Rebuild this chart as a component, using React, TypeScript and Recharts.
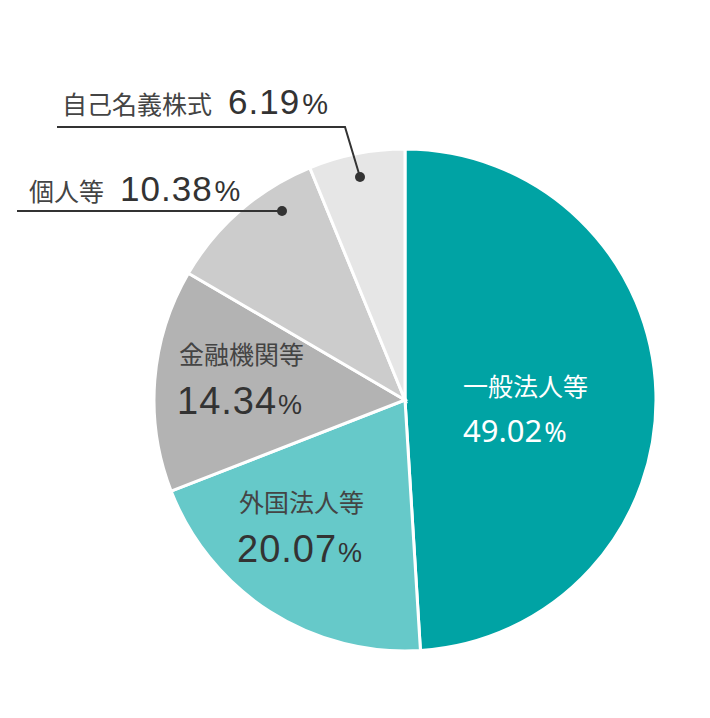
import { Cell, Pie, PieChart } from 'recharts'

const NAMES = ['一般法人等', '外国法人等', '金融機関等', '個人等', '自己名義株式']
const SHARES = [49.02, 20.07, 14.34, 10.38, 6.19]
const COLORS = ['#00a3a4', '#66c9c9', '#b3b3b3', '#cccccc', '#e6e6e6']

const data = NAMES.map((name, i) => ({ name, value: SHARES[i] }))

const DARK = '#333333'
const FONT = "'Liberation Sans', Arial, 'Noto Sans CJK JP', sans-serif"

// ラベル位置は円の中心からのずれ
const renderLabel = (props: any) => {
  const { cx, cy, index } = props
  const name = NAMES[index]
  const num = SHARES[index].toFixed(2)

  if (index === 0) {
    return (
      <g key={name} fontFamily={"'Noto Sans', 'Noto Sans CJK JP', sans-serif"} fill="#ffffff">
        <text x={cx + 58} y={cy - 4} fontSize={25} fontFamily="'Noto Sans CJK JP', sans-serif">
          {name}
        </text>
        <text x={cx + 58} y={cy + 42}>
          <tspan fontSize={31}>{num}</tspan>
          <tspan fontSize={27} dx={2}>%</tspan>
        </text>
      </g>
    )
  }

  if (index === 1 || index === 2) {
    const off = index === 1 ? { x: -166, y: 112 } : { x: -226, y: -36 }
    return (
      <g key={name} fontFamily={FONT} fill={DARK}>
        <text x={cx + off.x} y={cy + off.y} fontSize={25} fill="#444444" fontFamily="'Noto Sans CJK JP', sans-serif">
          {name}
        </text>
        <text x={cx + off.x - 2} y={cy + off.y + 50}>
          <tspan fontSize={38} letterSpacing={1}>{num}</tspan>
          <tspan fontSize={27} dx={1}>%</tspan>
        </text>
      </g>
    )
  }

  if (index === 3) {
    return (
      <g key={name} fontFamily={FONT}>
        <text x={cx - 376} y={cy - 199} fill={DARK}>
          <tspan fontSize={25} fill="#444444" fontFamily="'Noto Sans CJK JP', sans-serif">{name}</tspan>
          <tspan fontSize={35} dx={16} letterSpacing={1}>{num}</tspan>
          <tspan fontSize={29} dx={2}>%</tspan>
        </text>
        <line x1={cx - 388} y1={cy - 189} x2={cx - 123} y2={cy - 189} stroke={DARK} strokeWidth={2} />
        <circle cx={cx - 123} cy={cy - 189} r={5} fill={DARK} />
      </g>
    )
  }

  return (
    <g key={name} fontFamily={FONT}>
      <text x={cx - 343} y={cy - 286} fill={DARK}>
        <tspan fontSize={25} fill="#444444" fontFamily="'Noto Sans CJK JP', sans-serif">{name}</tspan>
        <tspan fontSize={35} dx={16} letterSpacing={1}>{num}</tspan>
        <tspan fontSize={29} dx={2}>%</tspan>
      </text>
      <polyline
        points={`${cx - 348},${cy - 273} ${cx - 60},${cy - 273} ${cx - 45},${cy - 223}`}
        fill="none"
        stroke={DARK}
        strokeWidth={2}
      />
      <circle cx={cx - 45} cy={cy - 223} r={5} fill={DARK} />
    </g>
  )
}

export default function App() {
  return (
    <PieChart width={702} height={710}>
      <Pie
        data={data}
        dataKey="value"
        nameKey="name"
        cx={392}
        cy={387}
        outerRadius={251}
        startAngle={90}
        endAngle={-270}
        stroke="#ffffff"
        strokeWidth={3}
        label={renderLabel}
        labelLine={false}
        isAnimationActive={false}
      >
        {data.map((d, i) => (
          <Cell key={d.name} fill={COLORS[i]} />
        ))}
      </Pie>
    </PieChart>
  )
}
